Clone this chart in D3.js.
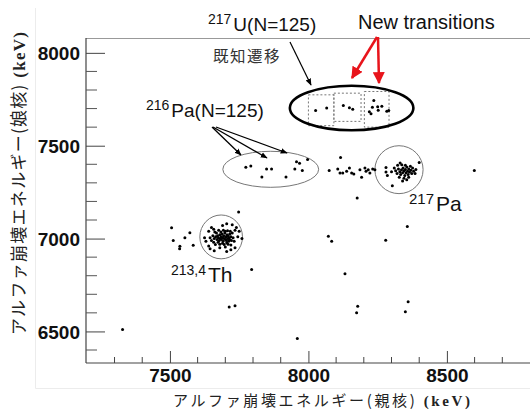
<!DOCTYPE html>
<html><head><meta charset="utf-8">
<script src="https://cdn.jsdelivr.net/npm/d3@7"></script>
<style>body{margin:0;background:#fff}svg{display:block}</style>
</head><body><svg id="c" width="530" height="411"></svg>
<script>
// ---------- data (keV) ----------
const xMajorTicks = [7500, 8000, 8500];
const yMajorTicks = [6500, 7000, 7500, 8000];
const xMinorTicks = [7300, 7400, 7600, 7700, 7800, 7900, 8100, 8200, 8300, 8400, 8600, 8700];
const yMinorTicks = [6400, 6600, 6700, 6800, 6900, 7100, 7200, 7300, 7400, 7600, 7700, 7800, 7900];

// 217U (N=125) events
const u217 = [[8026,7690],[8066,7703],[8126,7717],[8148,7704],[8160,7696],
  [8236,7744],[8231,7707],[8250,7710],[8265,7713],[8220,7683],[8226,7672],[8252,7691],[8283,7685],[8290,7690]];
// 216Pa (N=125) events
const pa216 = [[7774,7384],[7792,7391],[7849,7375],[7867,7375],[7832,7332],[7919,7332],
  [7957,7414],[7968,7406],[7997,7426],[7951,7375],[7978,7366]];
// tail between 216Pa and 217Pa
const tail = [[8116,7437],[8075,7366],[8106,7375],[8114,7353],[8124,7353],[8138,7362],[8148,7380],
  [8156,7353],[8164,7348],[8186,7371],[8192,7330],[8204,7380],[8208,7362],[8216,7371],[8222,7353],
  [8232,7375],[8240,7371]];
// 217Pa cluster
const pa217 = [[8280,7383],[8280,7359],[8285,7340],[8303,7285],[8331,7407],[8337,7398],[8400,7410],[8355,7317],
  [8315,7365],[8320,7350],[8325,7375],[8330,7360],[8333,7345],[8336,7370],[8340,7355],[8342,7380],
  [8345,7365],[8348,7340],[8350,7372],[8352,7355],[8355,7385],[8358,7362],[8360,7345],[8362,7375],
  [8365,7358],[8368,7390],[8370,7368],[8373,7350],[8376,7380],[8380,7362],[8328,7330],[8345,7325],
  [8362,7330],[8385,7350],[8310,7380],[8322,7395],[8350,7395],[8340,7310],[8300,7360],[8388,7372]];
// 213,214Th cluster
const th = [[7660,7000],[7665,7010],[7670,6995],[7672,7015],[7675,7005],[7678,6990],[7680,7020],[7682,7000],
  [7685,7010],[7686,6995],[7688,7025],[7690,7005],[7692,6985],[7694,7015],[7696,7000],[7698,7030],
  [7700,6995],[7702,7010],[7704,6990],[7706,7020],[7708,7000],[7710,7015],[7712,6985],[7714,7005],
  [7716,7025],[7668,7030],[7674,6980],[7684,7035],[7690,6975],[7700,7040],[7705,6978],[7715,6995],
  [7720,7010],[7722,6990],[7725,7030],[7655,7015],[7650,6990],[7658,6980],[7662,7035],[7676,7045],
  [7693,7045],[7708,7042],[7718,7040],[7680,6970],[7696,6968],[7710,6970],[7645,7005],[7728,7005],
  [7732,6985],[7664,6968],[7625,7005],[7640,6960],[7645,6945],[7660,6935],[7705,6930],[7720,6940],
  [7735,6950],[7745,7010],[7750,7040],[7740,7060],[7725,7075],[7705,7080],[7690,7070],[7650,7060],
  [7640,7040],[7760,7000],[7735,7045],[7658,7050],[7630,6985],[7700,6955],[7680,6950],[7720,6965]];
// scattered events
const other = [[7506,7058],[7512,6989],[7536,6959],[7535,6945],[7554,7004],[7572,7031],[7584,6964],
  [7748,7143],[7795,6833],[7714,6631],[7735,6638],[7329,6511],[7960,6462],
  [8072,7012],[8084,6986],[8132,6810],[8178,6636],[8174,6601],[8279,6991],[8357,7065],
  [8360,6660],[8350,6606],[8176,7219],[8599,7367]];

// ---------- layout ----------
const svg = d3.select("#c");
const x = d3.scaleLinear().domain([7197, 8800]).range([86, 530]);
const y = d3.scaleLinear().domain([6330, 8080]).range([363, 38]);
const LAT = "'Liberation Sans', Arial, Helvetica, sans-serif";
const JP = "'Noto Sans CJK JP', sans-serif";

svg.append("rect").attr("width",530).attr("height",411).attr("fill","#fff");
svg.append("path").attr("d","M35.5,8 V388.5 H530").attr("fill","none").attr("stroke","#ececec");
svg.append("line").attr("x1",86).attr("x2",530).attr("y1",38.5).attr("y2",38.5).attr("stroke","#999").attr("stroke-width",1.2);

// axes
const xAxis = d3.axisBottom(x).tickValues(xMajorTicks).tickSize(-12).tickFormat(d3.format("d"));
const gx = svg.append("g").attr("transform","translate(0,363)").call(xAxis);
gx.append("g").selectAll("line").data(xMinorTicks).join("line")
  .attr("x1",d=>x(d)).attr("x2",d=>x(d)).attr("y1",0).attr("y2",-6).attr("stroke","#444");
const yAxis = d3.axisLeft(y).tickValues(yMajorTicks).tickSize(-19).tickFormat(d3.format("d"));
const gy = svg.append("g").attr("transform","translate(86,0)").call(yAxis);
gy.append("g").selectAll("line").data(yMinorTicks).join("line")
  .attr("y1",d=>y(d)).attr("y2",d=>y(d)).attr("x1",0).attr("x2",11).attr("stroke","#555");
[gx, gy].forEach(g=>{
  g.select(".domain").attr("stroke","#444").attr("stroke-width",1.2);
  g.selectAll(".tick line").attr("stroke","#444");
  g.selectAll(".tick text").attr("font-family",LAT).attr("font-weight","bold").attr("font-size",19).attr("fill","#111");
});
gx.select(".domain").attr("d","M86,0H530");
gy.select(".domain").attr("d","M0,38V363");
gx.selectAll(".tick text").attr("y",6).attr("dy","0.71em");
gy.selectAll(".tick text").attr("x",-6).attr("dy","0.35em");

// axis titles
const xt = svg.append("text").attr("x",173).attr("y",406).attr("font-size",15).attr("fill","#222")
  .attr("font-family",JP).attr("textLength",297).attr("lengthAdjust","spacing");
xt.append("tspan").text("アルファ崩壊エネルギー(親核)");
xt.append("tspan").attr("font-family","'Liberation Serif', serif").attr("font-weight","bold").text(" (keV)");
const yt = svg.append("text").attr("transform","translate(25,335) rotate(-90)").attr("font-size",17).attr("fill","#222")
  .attr("font-family",JP).attr("textLength",303).attr("lengthAdjust","spacing");
yt.append("tspan").text("アルファ崩壊エネルギー(娘核)");
yt.append("tspan").attr("font-family","'Liberation Serif', serif").attr("font-weight","bold").text(" (keV)");

// region outlines
function ell(cx, cy, rx, ry, stroke, sw){
  svg.append("ellipse").attr("cx",x(cx)).attr("cy",y(cy))
    .attr("rx",x(cx+rx)-x(cx)).attr("ry",y(cy)-y(cy+ry))
    .attr("fill","none").attr("stroke",stroke).attr("stroke-width",sw);
}
ell(7864, 7373, 173, 97, "#777", 1);
ell(8327, 7371, 87, 129, "#777", 1);
ell(7685, 7009, 77, 118, "#777", 1);
const boxes = [[8000,8092,7608,7774],[8092,8190,7631,7783],[8202,8291,7600,7792]];
svg.append("g").selectAll("rect").data(boxes).join("rect")
  .attr("x",d=>x(d[0])).attr("width",d=>x(d[1])-x(d[0]))
  .attr("y",d=>y(d[3])).attr("height",d=>y(d[2])-y(d[3]))
  .attr("fill","none").attr("stroke","#777").attr("stroke-width",1).attr("stroke-dasharray","2,2");
ell(8156, 7703, 223, 120, "#000", 2.6);

// points
const all = [].concat(u217, pa216, tail, pa217, th, other);
svg.append("g").selectAll("circle").data(all).join("circle")
  .attr("cx",d=>x(d[0])).attr("cy",d=>y(d[1])).attr("r",1.5).attr("fill","#000");

// arrows
const defs = svg.append("defs");
defs.append("marker").attr("id","ab").attr("viewBox","0 0 10 10").attr("refX",9).attr("refY",5)
  .attr("markerWidth",7).attr("markerHeight",7).attr("orient","auto").attr("markerUnits","userSpaceOnUse")
  .append("path").attr("d","M0,1 L10,5 L0,9 Z").attr("fill","#000");
defs.append("marker").attr("id","ar").attr("viewBox","0 0 10 10").attr("refX",9).attr("refY",5)
  .attr("markerWidth",12).attr("markerHeight",12).attr("orient","auto").attr("markerUnits","userSpaceOnUse")
  .append("path").attr("d","M0,0 L10,5 L0,10 Z").attr("fill","#e8141b");
function arrow(x1,y1,x2,y2,col,sw,m){
  svg.append("line").attr("x1",x1).attr("y1",y1).attr("x2",x2).attr("y2",y2)
    .attr("stroke",col).attr("stroke-width",sw).attr("marker-end",`url(#${m})`);
}
arrow(212,127,241,155,"#000",1.3,"ab");
arrow(213,127,267,158,"#000",1.3,"ab");
arrow(216,127,287,153,"#000",1.3,"ab");
arrow(290,42,311,85,"#000",1.2,"ab");
arrow(377,37,352,78,"#e8141b",2.5,"ar");
arrow(378,37,379,83,"#e8141b",2.5,"ar");

// labels
function iso(xp, yp, mass, sym, fsSup, fs){
  const t = svg.append("text").attr("x",xp).attr("y",yp).attr("font-family",LAT).attr("fill","#111");
  t.append("tspan").attr("font-size",fsSup).attr("dy",-7).text(mass);
  t.append("tspan").attr("font-size",fs).attr("dy",7).attr("dx",2).text(sym);
}
iso(208, 31, "217", "U(N=125)", 14, 19);
iso(146, 117, "216", "Pa(N=125)", 14, 19);
iso(409, 211, "217", "Pa", 15, 21);
iso(171, 282, "213,4", "Th", 14, 21);
svg.append("text").attr("x",213).attr("y",62).attr("font-family",JP).attr("font-size",15.5)
  .attr("letter-spacing",1.5).attr("fill","#333").text("既知遷移");
svg.append("text").attr("x",358).attr("y",29).attr("font-family",LAT).attr("font-size",20)
  .attr("fill","#111").text("New transitions");
</script></body></html>
